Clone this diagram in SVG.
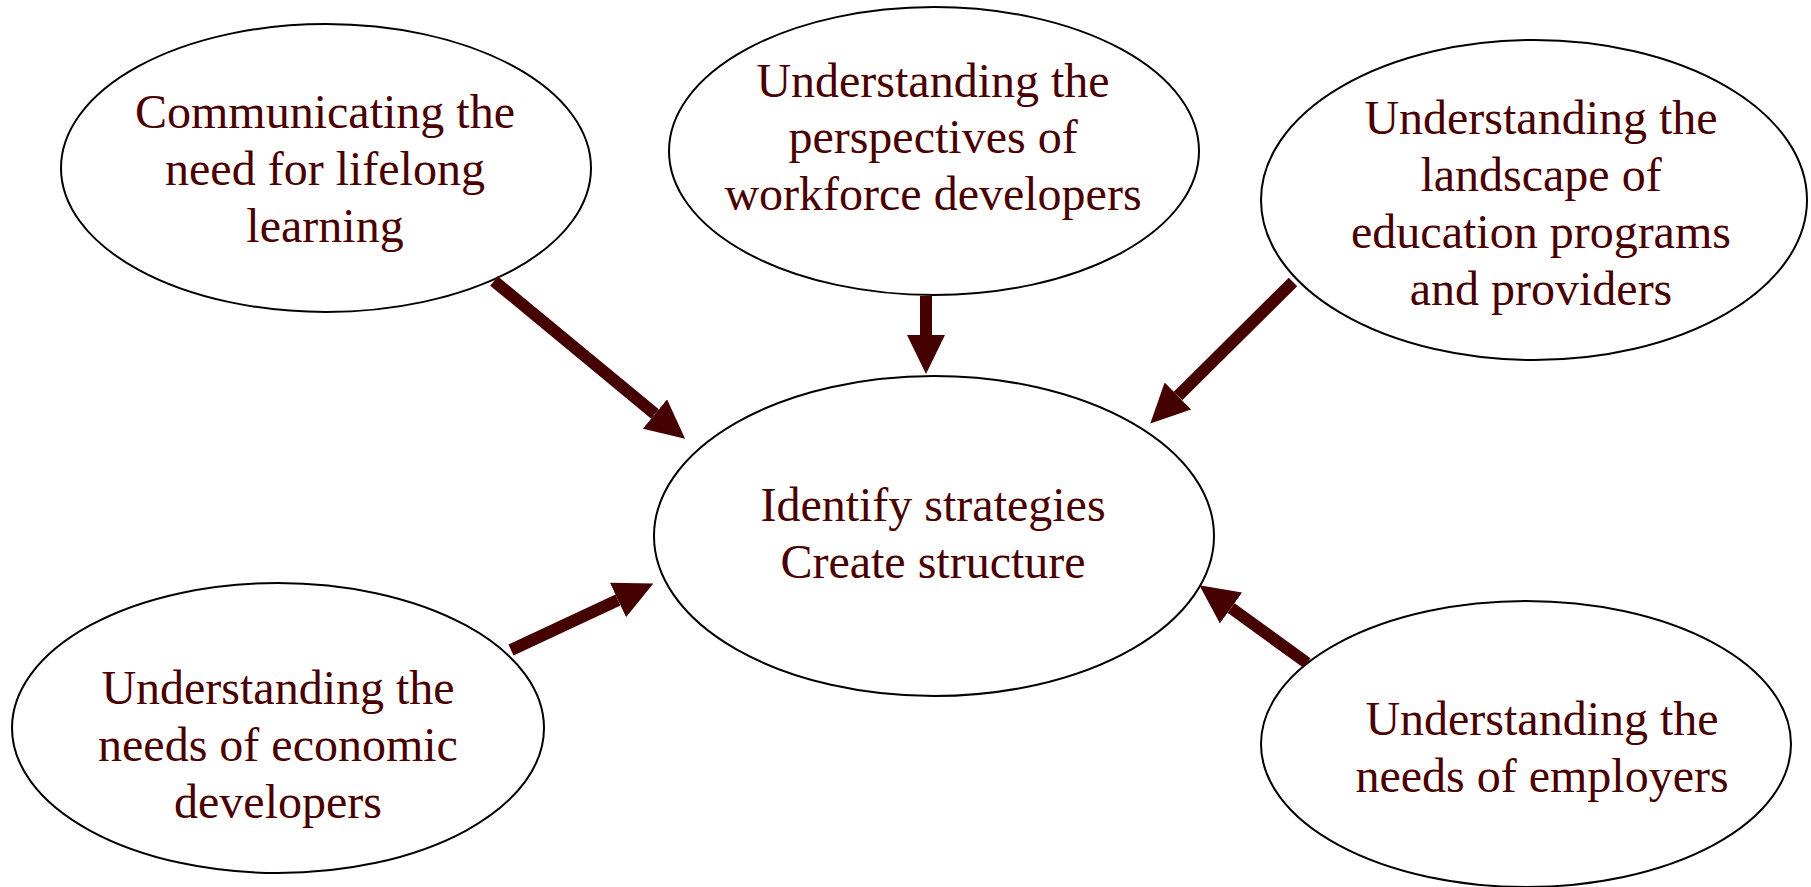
<svg xmlns="http://www.w3.org/2000/svg" width="1811" height="887" viewBox="0 0 1811 887">
  <style>
    .node ellipse { fill: #ffffff; stroke: #000000; stroke-width: 2; }
    .node text { font-family: "Liberation Serif", "Times New Roman", serif; font-size: 48px; fill: #4a0000; text-anchor: middle; }
    .link { stroke: #450000; stroke-width: 12; fill: none; marker-end: url(#head); }
  </style>
  <defs>
    <!-- arrowhead starts where the shaft ends and reaches 39px further -->
    <marker id="head" viewBox="0 0 39 38" refX="0" refY="19" markerWidth="39" markerHeight="38" markerUnits="userSpaceOnUse" orient="auto">
      <path d="M0,0 L39,19 L0,38 Z" fill="#450000"/>
    </marker>
  </defs>

  <rect width="1811" height="887" fill="#ffffff"/>

  <g id="n-lifelong" class="node">
    <ellipse cx="326" cy="168" rx="265" ry="144"/>
    <text x="325" y="128">Communicating the</text>
    <text x="325" y="185">need for lifelong</text>
    <text x="325" y="242">learning</text>
  </g>

  <g id="n-workforce" class="node">
    <ellipse cx="934" cy="151" rx="265" ry="144"/>
    <text x="933" y="97">Understanding the</text>
    <text x="933" y="153">perspectives of</text>
    <text x="933" y="210">workforce developers</text>
  </g>

  <g id="n-education" class="node">
    <ellipse cx="1534" cy="200" rx="273" ry="160"/>
    <text x="1541" y="134">Understanding the</text>
    <text x="1541" y="191">landscape of</text>
    <text x="1541" y="248">education programs</text>
    <text x="1541" y="305">and providers</text>
  </g>

  <g id="n-center" class="node">
    <ellipse cx="934" cy="536" rx="280" ry="160"/>
    <text x="933" y="521">Identify strategies</text>
    <text x="933" y="578">Create structure</text>
  </g>

  <g id="n-economic" class="node">
    <ellipse cx="278" cy="728" rx="266" ry="145"/>
    <text x="278" y="704">Understanding the</text>
    <text x="278" y="761">needs of economic</text>
    <text x="278" y="818">developers</text>
  </g>

  <g id="n-employers" class="node">
    <ellipse cx="1526" cy="744" rx="265" ry="143"/>
    <text x="1542" y="735">Understanding the</text>
    <text x="1542" y="792">needs of employers</text>
  </g>

  <g id="connectors">
    <line class="link" x1="494" y1="281" x2="655" y2="414"/>
    <line class="link" x1="926" y1="296" x2="926" y2="335"/>
    <line class="link" x1="1293" y1="282" x2="1178" y2="396"/>
    <line class="link" x1="511" y1="650" x2="618" y2="600"/>
    <line class="link" x1="1307" y1="663" x2="1231" y2="608"/>
  </g>
</svg>
